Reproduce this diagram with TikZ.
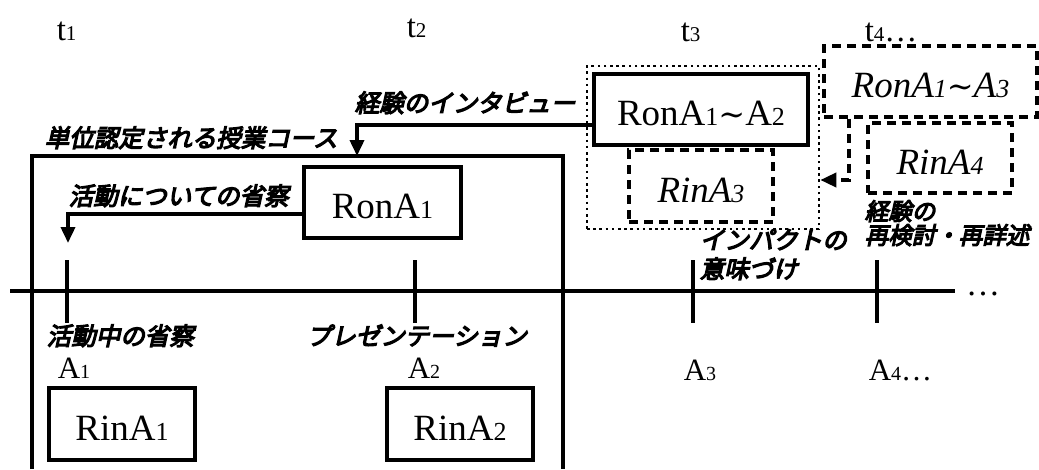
\documentclass[tikz,border=0pt]{standalone}
\usepackage{fontspec}
\setmainfont{Liberation Serif}
\newfontfamily\jp[FakeSlant=0.22,FakeBold=5]{Noto Sans CJK JP}
\newfontfamily\djs{DejaVu Serif}
\usetikzlibrary{arrows.meta}
\newcommand\dg[1]{{\fontsize{26}{26}\selectfont #1}}
\newcommand\ldg[1]{{\fontsize{20}{20}\selectfont #1}}
\newcommand\tdg[1]{{\fontsize{21}{21}\selectfont #1}}
\newcommand\wv{{\djs\fontsize{32}{32}\selectfont ∼}}
\begin{document}
\begin{tikzpicture}[x=1pt,y=-1pt, line width=3.6pt,
  box/.style={draw, line width=3.8pt, inner sep=0pt, text height=32pt, text depth=0pt,
    font=\fontsize{37}{37}\selectfont},
  dbox/.style={box, dash pattern=on 9pt off 6pt, font=\fontsize{37}{37}\selectfont\itshape},
  jl/.style={inner sep=0pt, anchor=base west, font=\jp\fontsize{24.5}{24.5}\selectfont},
  lab/.style={inner sep=0pt, anchor=base west, font=\fontsize{31}{31}\selectfont},
  tlab/.style={inner sep=0pt, anchor=base west, font=\fontsize{33}{33}\selectfont},
  arr/.style={-{Triangle[width=14pt,length=16pt]}, line width=3.6pt},
]
\fill[white] (0,0) rectangle (1039,469);
\useasboundingbox (0,0) rectangle (1039,469);

% main course box
\coordinate (mbl) at (32,469);
\coordinate (mtl) at (32,156);
\coordinate (mtr) at (563,156);
\coordinate (mbr) at (563,469);
\draw (mbl) -- (mtl) -- (mtr) -- (mbr);

% timeline
\coordinate (tla) at (10,291);
\coordinate (tlb) at (955,291);
\draw (tla) -- (tlb);
\node[inner sep=0pt, anchor=base, font=\fontsize{34}{34}\selectfont] (dots) at (983,295) {…};
\foreach \x in {67,415,693,877} \draw (\x,260) -- (\x,323);

% time labels
\node[tlab] (t1) at (55,40) {t\tdg{1}};
\node[tlab] (t2) at (405,37) {t\tdg{2}};
\node[tlab] (t3) at (679,41) {t\tdg{3}};
\node[tlab] (t4) at (863,41) {t\tdg{4}…};

% activity labels
\node[lab] (a1) at (56,378) {A\ldg{1}};
\node[lab] (a2) at (406,378) {A\ldg{2}};
\node[lab] (a3) at (682,380) {A\ldg{3}};
\node[lab] (a4) at (867,380) {A\ldg{4}…};

% boxes
\node[box, minimum width=157pt, minimum height=71pt] (rona1) at (382.5,202.5) {RonA\dg{1}};
\node[box, minimum width=146pt, minimum height=72pt] (rina1) at (122,424) {RinA\dg{1}};
\node[box, minimum width=146pt, minimum height=72pt] (rina2) at (460,424) {RinA\dg{2}};
\node[draw, dash pattern=on 2.6pt off 3.6pt, line width=2.6pt, inner sep=0pt,
      minimum width=232pt, minimum height=163pt] (grp) at (703,147.5) {};
\node[box, fill=white, minimum width=214pt, minimum height=71pt] (rona12) at (701,109.5) {RonA\dg{1}\wv A\dg{2}};
\node[dbox, minimum width=144pt, minimum height=72pt] (rina3) at (701,186) {RinA\dg{3}};
\node[dbox, minimum width=213pt, minimum height=71pt] (rona13) at (930.5,81.5) {RonA\dg{1}\wv A\dg{3}};
\node[dbox, minimum width=144pt, minimum height=70pt] (rina4) at (940,158) {RinA\dg{4}};

% Japanese labels
\node[jl] (course) at (43,147) {単位認定される授業コース};
\node[jl] (interview) at (353,112) {経験のインタビュー};
\node[jl] (ronact) at (67,205) {活動についての省察};
\node[jl] (rinact) at (45,345) {活動中の省察};
\node[jl] (pres) at (305,345) {プレゼンテーション};
\node[jl] (imp1) at (698,249) {インパクトの};
\node[jl] (imp2) at (698,278) {意味づけ};
\node[jl, font=\jp\fontsize{23.5}{23.5}\selectfont] (re1) at (863,220) {経験の};
\node[jl, font=\jp\fontsize{23.5}{23.5}\selectfont] (re2) at (863,244) {再検討・再詳述};

% connectors
\coordinate (c1) at (357,125);
\coordinate (boxtop) at (357,156);
\draw[arr] (rona12.west |- c1) -- (c1) -- (boxtop);
\coordinate (c2) at (68,214);
\coordinate (c2e) at (68,243);
\draw[arr] (rona1.west |- c2) -- (c2) -- (c2e);
\coordinate (c3) at (849,180);
\draw[arr, dash pattern=on 9pt off 6pt] (c3 |- rona13.south) -- (c3) -- (grp.east |- c3);
\end{tikzpicture}
\end{document}
